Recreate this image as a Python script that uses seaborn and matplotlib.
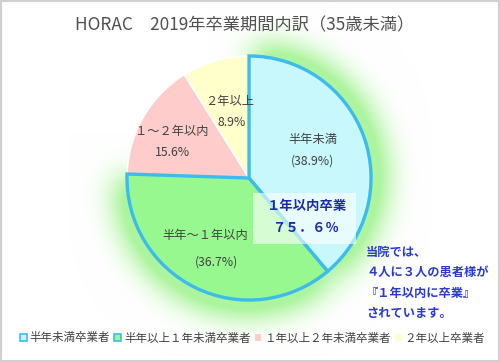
import numpy as np
import matplotlib
matplotlib.use("Agg")
import matplotlib.pyplot as plt
from matplotlib.patches import Rectangle, Patch
import seaborn as sns

# ---- data ----
categories = ["半年未満卒業者", "半年以上１年未満卒業者", "１年以上２年未満卒業者", "２年以上卒業者"]
values = [38.9, 36.7, 15.6, 8.9]
slice_names = ["半年未満", "半年～１年以内", "１～２年以内", "２年以上"]
slice_pcts = ["(38.9%)", "(36.7%)", "15.6%", "8.9%"]
title = "HORAC　2019年卒業期間内訳（35歳未満）"
box_lines = ["１年以内卒業", "７５．６％"]
note_lines = ["当院では、", "４人に３人の患者様が", "『１年以内に卒業』", "されています。"]

sns.set_theme(style="white")
plt.rcParams['font.family'] = ['Noto Sans CJK JP', 'DejaVu Sans']

W, H = 500, 362
fig = plt.figure(figsize=(W / 100, H / 100), dpi=100)
fig.patch.set_facecolor('white')

fills = ["#c8f8fc", "#98f890", "#ffcccc", "#ffffcc"]
blue_edge = "#3cbcec"
cx, cy, R = 249, 184, 122
explode = [0.04, 0.04, 0, 0]

# ---- glow layer (separate axes underneath) ----
bg = fig.add_axes([0, 0, 1, 1], zorder=0)
bg.axis('off')
yy, xx = np.mgrid[0:H, 0:W] + 0.5
mask = np.zeros((H, W))
start = 90.0
tot = sum(values)
for i in range(2):
    span = values[i] / tot * 360
    a1, a0 = start - span, start
    mid = np.deg2rad((a0 + a1) / 2)
    ox = cx + explode[i] * R * np.cos(mid)
    oy = cy + explode[i] * R * np.sin(mid)
    r = np.hypot(xx - ox, yy - oy)
    ang = np.rad2deg(np.arctan2(yy - oy, xx - ox))
    inside = np.zeros_like(r, dtype=bool)
    for off in (-360, 0, 360):
        inside |= (ang + off >= a1) & (ang + off <= a0)
    mask[(r <= R + 10) & inside] = 1
    start = a1
sig = 15
kk = np.arange(-3 * sig, 3 * sig + 1)
gk = np.exp(-kk ** 2 / (2 * sig ** 2)); gk /= gk.sum()
blur = np.apply_along_axis(lambda m: np.convolve(m, gk, mode='same'), 1, mask)
blur = np.apply_along_axis(lambda m: np.convolve(m, gk, mode='same'), 0, blur)
glow_a = np.clip(blur * 1.5, 0, 0.95)
glow_col = np.array([0xa8, 0xf4, 0x98]) / 255.0
rgb = 1 - glow_a[..., None] * (1 - glow_col[None, None, :])
bg.imshow(rgb, extent=(0, W, 0, H), origin='lower', interpolation='bilinear', aspect='auto')
bg.set_xlim(0, W)
bg.set_ylim(0, H)

# ---- main axes ----
ax = fig.add_axes([0, 0, 1, 1], zorder=1)
ax.patch.set_alpha(0)
wedges, _ = ax.pie(values, colors=fills, startangle=90, counterclock=False,
                   center=(cx, cy), radius=R, explode=explode,
                   wedgeprops=dict(edgecolor="white", linewidth=1.2), frame=True)
for w in wedges:
    w.set_zorder(2)
for i in range(2):
    wedges[i].set_edgecolor(blue_edge)
    wedges[i].set_linewidth(2.4)
    wedges[i].set_zorder(3)
ax.set_xlim(0, W)
ax.set_ylim(0, H)
ax.set_aspect('equal')
ax.axis('off')

# ---- slice labels ----
txtc = "#404040"
lab_pos = [((313, 140), (313, 161)), ((205, 235), (216, 262)),
           ((172, 131), (172, 152)), ((230, 102), (232, 122))]
for i in range(4):
    (x1, y1), (x2, y2) = lab_pos[i]
    ax.text(x1, H - y1, slice_names[i], ha='center', va='center', fontsize=8.8, color=txtc, zorder=5)
    ax.text(x2, H - y2, slice_pcts[i], ha='center', va='center', fontsize=8.8, color=txtc, zorder=5)

# ---- highlight box ----
ax.add_patch(Rectangle((253, H - 244), 103, 51, facecolor='white', alpha=0.6, edgecolor='none', zorder=6))
ax.text(306, H - 206, box_lines[0], ha='center', va='center', fontsize=9.6, fontweight='bold', color="#1c2aa8", zorder=7)
ax.text(306, H - 228, box_lines[1], ha='center', va='center', fontsize=9.6, fontweight='bold', color="#1c2aa8", zorder=7)

# ---- note ----
for j, line in enumerate(note_lines):
    ax.text(366, H - (252 + j * 20.5), line, ha='left', va='center', fontsize=8.8,
            fontweight='bold', color="#2a3ad0", zorder=7)

# ---- title ----
fig.text(0.49, 1 - 25 / H, title, ha='center', va='center', fontsize=12.4, color="#505050", zorder=5)

# ---- legend ----
handles = [Patch(facecolor=fills[0], edgecolor=blue_edge, linewidth=1.2),
           Patch(facecolor=fills[1], edgecolor=blue_edge, linewidth=1.2),
           Patch(facecolor=fills[2], edgecolor='none'),
           Patch(facecolor=fills[3], edgecolor='none')]
leg = fig.legend(handles, categories, loc='center', bbox_to_anchor=(0.505, 1 - 338 / H), ncol=4,
                 frameon=False, fontsize=8.3, handlelength=0.6, handleheight=0.6,
                 handletextpad=0.25, columnspacing=0.35, labelcolor="#404040", borderaxespad=0)
leg.set_zorder(5)

# ---- figure border ----
border = Rectangle((0.002, 0.003), 0.995, 0.994, transform=fig.transFigure,
                   fill=False, edgecolor="#d0d0d0", linewidth=1.5, zorder=10)
fig.add_artist(border)

fig.savefig("out.png", dpi=100)
